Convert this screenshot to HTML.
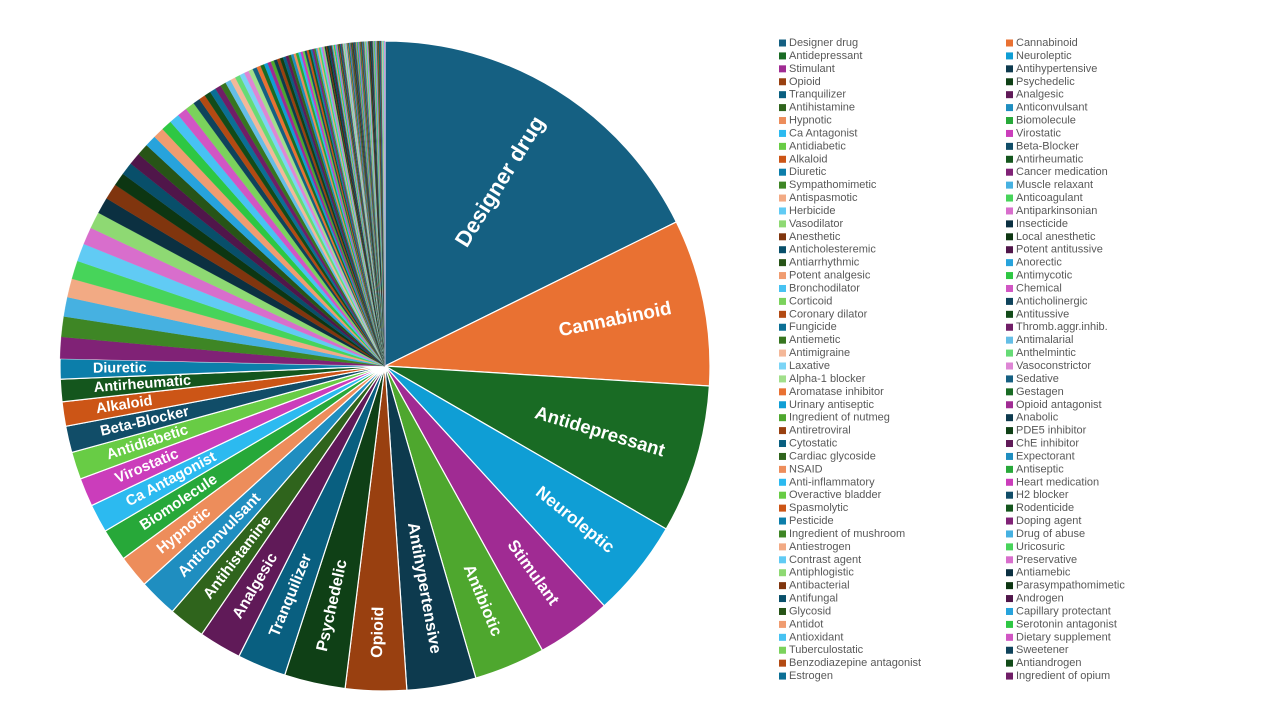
<!DOCTYPE html>
<html><head><meta charset="utf-8">
<style>
html,body{margin:0;padding:0;background:#fff;}
body{width:1280px;height:720px;overflow:hidden;font-family:"Liberation Sans",sans-serif;}
svg text{font-family:"Liberation Sans",sans-serif;}
</style></head>
<body>
<svg id="chart" width="1280" height="720" xmlns="http://www.w3.org/2000/svg">
  <g id="slices"></g>
  <g id="labels"></g>
  <g id="legend"></g>
</svg>
<script>
const categories = ["Designer drug","Cannabinoid","Antidepressant","Neuroleptic","Stimulant","Antibiotic","Antihypertensive","Opioid","Psychedelic","Tranquilizer","Analgesic","Antihistamine","Anticonvulsant","Hypnotic","Biomolecule","Ca Antagonist","Virostatic","Antidiabetic","Beta-Blocker","Alkaloid","Antirheumatic","Diuretic","Cancer medication","Sympathomimetic","Muscle relaxant","Antispasmotic","Anticoagulant","Herbicide","Antiparkinsonian","Vasodilator","Insecticide","Anesthetic","Local anesthetic","Anticholesteremic","Potent antitussive","Antiarrhythmic","Anorectic","Potent analgesic","Antimycotic","Bronchodilator","Chemical","Corticoid","Anticholinergic","Coronary dilator","Antitussive","Fungicide","Thromb.aggr.inhib.","Antiemetic","Antimalarial","Antimigraine","Anthelmintic","Laxative","Vasoconstrictor","Alpha-1 blocker","Sedative","Aromatase inhibitor","Gestagen","Urinary antiseptic","Opioid antagonist","Ingredient of nutmeg","Anabolic","Antiretroviral","PDE5 inhibitor","Cytostatic","ChE inhibitor","Cardiac glycoside","Expectorant","NSAID","Antiseptic","Anti-inflammatory","Heart medication","Overactive bladder","H2 blocker","Spasmolytic","Rodenticide","Pesticide","Doping agent","Ingredient of mushroom","Drug of abuse","Antiestrogen","Uricosuric","Contrast agent","Preservative","Antiphlogistic","Antiamebic","Antibacterial","Parasympathomimetic","Antifungal","Androgen","Glycosid","Capillary protectant","Antidot","Serotonin antagonist","Antioxidant","Dietary supplement","Tuberculostatic","Sweetener","Benzodiazepine antagonist","Antiandrogen","Estrogen","Ingredient of opium"];
const values = [17.5,8.2,7.3,4.8,3.7,3.5,3.4,3.0,3.0,2.4,2.1,1.8,1.9,1.6,1.6,1.4,1.4,1.35,1.3,1.2,1.1,1.0,
1.05,1.0,0.95,0.92,0.9,0.88,0.85,0.82,0.8,0.78,
0.65,0.62,0.6,0.58,0.56,0.54,0.52,0.5,0.48,0.46,
0.34,0.32,0.31,0.3,0.29,0.28,0.27,0.26,0.25,0.24,
0.23,0.22,0.21,0.2,0.19,0.18,0.17,0.16,0.16,0.15,
0.15,0.14,0.14,0.13,0.13,0.12,0.12,0.11,0.11,0.1,
0.1,0.1,0.09,0.09,0.09,0.08,0.08,0.08,0.07,0.07,
0.07,0.07,0.06,0.06,0.06,0.06,0.06,0.05,0.05,0.05,0.05,0.05,0.05,0.04,0.04,0.04,0.04,0.04,0.04];
const tailValues = Array(60).fill(0.035);
const labeledCount = 22;
const legendSkip = ["Antibiotic"];

const palette = ["#156082","#E97132","#196B24","#0F9ED5","#A02B93","#4EA72E"];
const variants = [[1,0],[0.6,0],[0.8,0.2],[0.8,0],[0.6,0.4],[0.5,0],[0.7,0.3],[0.7,0],[0.5,0.5]];
function hexToHsl(h){let r=parseInt(h.substr(1,2),16)/255,g=parseInt(h.substr(3,2),16)/255,b=parseInt(h.substr(5,2),16)/255;
 let mx=Math.max(r,g,b),mn=Math.min(r,g,b),l=(mx+mn)/2,s=0,hh=0;
 if(mx!==mn){let d=mx-mn;s=l>0.5?d/(2-mx-mn):d/(mx+mn);
  if(mx===r)hh=(g-b)/d+(g<b?6:0);else if(mx===g)hh=(b-r)/d+2;else hh=(r-g)/d+4;hh/=6;}
 return [hh,s,l];}
function hslToHex(h,s,l){function f(p,q,t){if(t<0)t+=1;if(t>1)t-=1;if(t<1/6)return p+(q-p)*6*t;if(t<1/2)return q;if(t<2/3)return p+(q-p)*(2/3-t)*6;return p;}
 let r,g,b;if(s===0){r=g=b=l;}else{let q=l<0.5?l*(1+s):l+s-l*s,p=2*l-q;r=f(p,q,h+1/3);g=f(p,q,h);b=f(p,q,h-1/3);}
 return "#"+[r,g,b].map(v=>Math.round(Math.max(0,Math.min(1,v))*255).toString(16).padStart(2,"0")).join("");}
function colorFor(i){const base=palette[i%6];const v=variants[Math.floor(i/6)%variants.length];
 const [h,s,l]=hexToHsl(base);return hslToHex(h,s,Math.min(1,l*v[0]+v[1]));}

const NS="http://www.w3.org/2000/svg";
const cx=385,cy=366,R=325;
const all=values.concat(tailValues);
const total=all.reduce((a,b)=>a+b,0);
function angleScale(v){return v/total*360;}
function pt(deg,r){const a=deg*Math.PI/180;return [cx+r*Math.sin(a),cy-r*Math.cos(a)];}

const gS=document.getElementById("slices"),gL=document.getElementById("labels"),gLeg=document.getElementById("legend");
let acc=0;const colors=[];
all.forEach((v,i)=>{
 const a0=acc,a1=acc+angleScale(v);acc=a1;
 const c=colorFor(i);colors.push(c);
 const p0=pt(a0,R),p1=pt(a1,R);
 const path=document.createElementNS(NS,"path");
 path.setAttribute("d",`M${cx},${cy} L${p0[0]},${p0[1]} A${R},${R} 0 ${a1-a0>180?1:0} 1 ${p1[0]},${p1[1]} Z`);
 path.setAttribute("fill",c);
 if(i<labeledCount){path.setAttribute("stroke","#fff");path.setAttribute("stroke-width","1.2");}
 else{path.setAttribute("stroke",c);path.setAttribute("stroke-width","0.25");}
 
 
 gS.appendChild(path);
 if(i<labeledCount){
  const mid=(a0+a1)/2;const fs=12+Math.sqrt(v)*2.4;
  const po=pt(mid,292);
  const t=document.createElementNS(NS,"text");
  t.textContent=categories[i];
  t.setAttribute("x",po[0]);t.setAttribute("y",po[1]);
  t.setAttribute("fill","#fff");t.setAttribute("font-weight","bold");
  t.setAttribute("font-size",fs.toFixed(1));
  t.setAttribute("dominant-baseline","central");
  let rot;if(mid<180){rot=mid-90;t.setAttribute("text-anchor","end");}else{rot=mid-270;t.setAttribute("text-anchor","start");}
  t.setAttribute("transform",`rotate(${rot} ${po[0]} ${po[1]})`);
  
  
  gL.appendChild(t);
 }
});

let k=0;
categories.forEach((name,i)=>{
 if(legendSkip.includes(name))return;
 const col=k%2,row=Math.floor(k/2);k++;
 const x=col?1006:779,y=43+row*12.92;
 const g=document.createElementNS(NS,"g");
 
 
 const r=document.createElementNS(NS,"rect");
 r.setAttribute("x",x);r.setAttribute("y",y-3.5);r.setAttribute("width",7);r.setAttribute("height",7);r.setAttribute("fill",colors[i]);
 
 
 const t=document.createElementNS(NS,"text");
 t.setAttribute("x",x+10);t.setAttribute("y",y);t.setAttribute("dominant-baseline","central");
 t.setAttribute("font-size","11");t.setAttribute("fill","#595959");t.textContent=name;
 
 
 g.appendChild(r);g.appendChild(t);gLeg.appendChild(g);
});
</script>
</body></html>
